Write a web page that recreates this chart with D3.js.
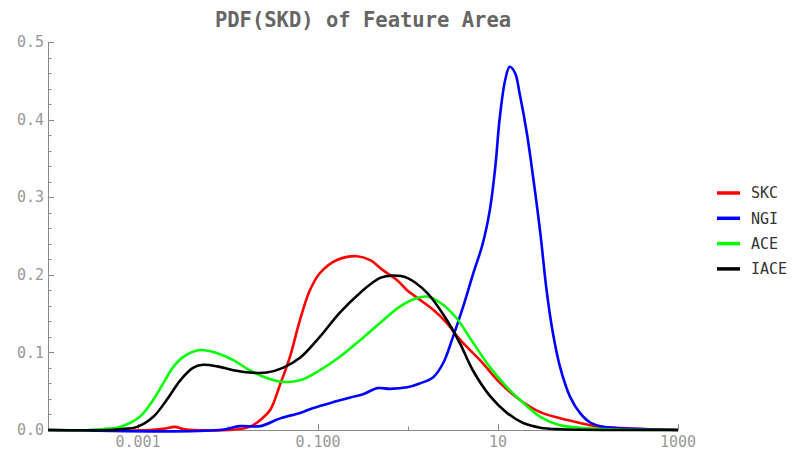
<!DOCTYPE html>
<html>
<head>
<meta charset="utf-8">
<script src="https://cdn.jsdelivr.net/npm/d3@7"></script>
<style>
  html, body { margin: 0; padding: 0; background: #fff; }
  svg { display: block; }
</style>
</head>
<body>
<svg id="chart" width="797" height="451"></svg>
<script>
// PDF(SKD) of Feature Area — four density curves on a log x axis
var TITLE = 'PDF(SKD) of Feature Area';
var names = ['SKC', 'NGI', 'ACE', 'IACE'];
var colors = ['#ff0000', '#0000ff', '#00ff00', '#000000'];

// x positions read in decades (log10 of area), y = pdf
var skcLog = [-4, -2.87, -2.70, -2.59, -2.48, -1.98, -1.76, -1.64, -1.53, -1.42, -1.31, -1.20, -1.09, -0.98, -0.79, -0.57, -0.42, -0.28, -0.12, -0.01, 0.13, 0.28, 0.43, 0.58, 0.80, 1.02, 1.24, 1.47, 1.69, 1.91, 2.13, 2.47, 3];
var skcY   = [0, 0, 0.002, 0.004, 0.001, 0, 0.004, 0.013, 0.026, 0.059, 0.095, 0.142, 0.180, 0.202, 0.219, 0.224, 0.219, 0.206, 0.193, 0.180, 0.168, 0.155, 0.138, 0.116, 0.090, 0.061, 0.039, 0.023, 0.015, 0.009, 0.004, 0.002, 0];

var ngiLog = [-4, -2.09, -1.87, -1.64, -1.42, -1.20, -1.06, -0.83, -0.64, -0.50, -0.34, -0.20, -0.01, 0.13, 0.28, 0.39, 0.50, 0.61, 0.72, 0.83, 0.91, 0.97, 1.02, 1.08, 1.13, 1.19, 1.24, 1.32, 1.39, 1.47, 1.54, 1.61, 1.69, 1.80, 1.91, 2.02, 2.17, 2.43, 3];
var ngiY   = [0, 0, 0.005, 0.005, 0.015, 0.022, 0.028, 0.036, 0.042, 0.046, 0.054, 0.053, 0.055, 0.060, 0.068, 0.086, 0.120, 0.158, 0.200, 0.240, 0.284, 0.339, 0.403, 0.451, 0.468, 0.460, 0.434, 0.383, 0.326, 0.254, 0.180, 0.125, 0.081, 0.043, 0.022, 0.010, 0.004, 0.002, 0];

var aceLog = [-4, -3.53, -3.42, -3.20, -2.98, -2.83, -2.72, -2.61, -2.50, -2.31, -2.12, -1.94, -1.76, -1.57, -1.39, -1.20, -0.98, -0.76, -0.53, -0.31, -0.09, 0.10, 0.21, 0.36, 0.54, 0.72, 0.91, 1.10, 1.28, 1.47, 1.69, 1.91, 2.24, 3];
var aceY   = [0, 0, 0.001, 0.004, 0.017, 0.039, 0.060, 0.081, 0.094, 0.103, 0.099, 0.090, 0.077, 0.067, 0.062, 0.064, 0.077, 0.094, 0.116, 0.138, 0.159, 0.170, 0.172, 0.164, 0.144, 0.113, 0.081, 0.055, 0.035, 0.017, 0.006, 0.003, 0.001, 0];

var iaceLog = [-4, -3.31, -3.20, -3.01, -2.83, -2.68, -2.53, -2.39, -2.28, -2.12, -1.94, -1.76, -1.57, -1.39, -1.20, -0.98, -0.76, -0.53, -0.31, -0.17, -0.01, 0.21, 0.43, 0.58, 0.72, 0.91, 1.10, 1.28, 1.47, 1.69, 3];
var iaceY   = [0, 0, 0.001, 0.004, 0.017, 0.039, 0.064, 0.080, 0.084, 0.082, 0.077, 0.074, 0.074, 0.080, 0.093, 0.120, 0.151, 0.177, 0.196, 0.199, 0.196, 0.177, 0.142, 0.111, 0.077, 0.044, 0.022, 0.009, 0.003, 0.001, 0];

var xMajor = [0.001, 0.1, 10, 1000];
var xMajorLabels = ['0.001', '0.100', '10', '1000'];
var xMinor = [0.01, 1, 100];
var yMajor = [0, 0.1, 0.2, 0.3, 0.4, 0.5];
var yMajorLabels = ['0.0', '0.1', '0.2', '0.3', '0.4', '0.5'];

var series = [
  { name: names[0], color: colors[0], lg: skcLog, y: skcY },
  { name: names[1], color: colors[1], lg: ngiLog, y: ngiY },
  { name: names[2], color: colors[2], lg: aceLog, y: aceY },
  { name: names[3], color: colors[3], lg: iaceLog, y: iaceY }
];

var svg = d3.select('#chart');
var L = 48, R = 678, T = 42, B = 430;
var x = d3.scaleLog().domain([1e-4, 1e3]).range([L, R]);
var y = d3.scaleLinear().domain([0, 0.5]).range([B, T]);
var AX = '#8a8a8a', MONO = 'DejaVu Sans Mono, monospace';

// title
svg.append('text').attr('x', (L + R) / 2).attr('y', 27).attr('text-anchor', 'middle')
  .attr('font-family', MONO).attr('font-weight', 'bold').attr('font-size', 20.5)
  .attr('fill', '#666').text(TITLE);

// axes
var gA = svg.append('g').attr('stroke', AX).attr('stroke-width', 1).attr('fill', 'none');
gA.append('line').attr('x1', L).attr('x2', R).attr('y1', B + 0.5).attr('y2', B + 0.5);
gA.append('line').attr('x1', L + 0.5).attr('x2', L + 0.5).attr('y1', T).attr('y2', B);

xMajor.forEach(function (v) {
  var px = Math.round(x(v)) + 0.5;
  gA.append('line').attr('x1', px).attr('x2', px).attr('y1', B).attr('y2', B - 6);
});
xMinor.forEach(function (v) {
  var px = Math.round(x(v)) + 0.5;
  gA.append('line').attr('x1', px).attr('x2', px).attr('y1', B).attr('y2', B - 3.5);
});
d3.range(0, 0.5001, 0.02).forEach(function (v) {
  var major = Math.abs(v * 10 - Math.round(v * 10)) < 1e-6;
  var py = Math.round(y(v)) + 0.5;
  gA.append('line').attr('x1', L).attr('x2', L + (major ? 6 : 3.5)).attr('y1', py).attr('y2', py);
});

var gL = svg.append('g').attr('font-family', MONO).attr('font-size', 15).attr('fill', '#999');
xMajor.forEach(function (v, i) {
  gL.append('text').attr('x', x(v)).attr('y', 447).attr('text-anchor', 'middle').text(xMajorLabels[i]);
});
yMajor.forEach(function (v, i) {
  gL.append('text').attr('x', 44).attr('y', y(v)).attr('dy', '0.35em').attr('text-anchor', 'end').text(yMajorLabels[i]);
});

// curves
var line = d3.line()
  .x(function (d) { return x(d[0]); })
  .y(function (d) { return y(d[1]); })
  .curve(d3.curveCatmullRom.alpha(0.5));

svg.append('g').selectAll('path').data(series).enter().append('path')
  .attr('d', function (s) { return line(s.lg.map(function (e, i) { return [Math.pow(10, e), s.y[i]]; })); })
  .attr('fill', 'none').attr('stroke', function (s) { return s.color; })
  .attr('stroke-width', 2.6).attr('stroke-linejoin', 'round');

// legend
var lg = svg.append('g');
series.forEach(function (s, i) {
  var ly = 193 + i * 25.3;
  lg.append('line').attr('x1', 717).attr('x2', 740).attr('y1', ly).attr('y2', ly)
    .attr('stroke', s.color).attr('stroke-width', 3.5);
  lg.append('text').attr('x', 751).attr('y', ly).attr('dy', '0.36em')
    .attr('font-family', MONO).attr('font-size', 15).attr('fill', '#333').text(s.name);
});
</script>
</body>
</html>
